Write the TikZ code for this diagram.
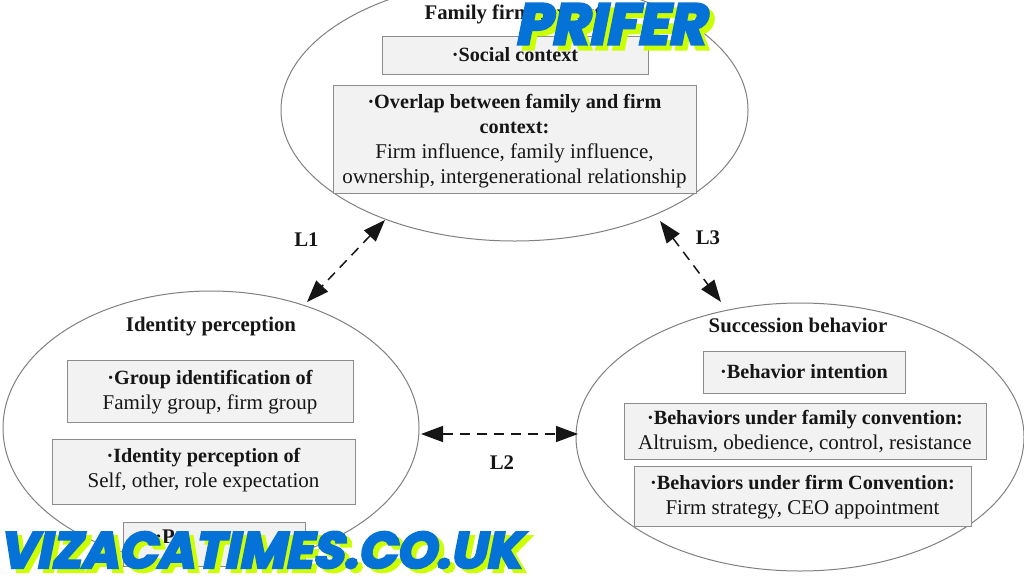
\documentclass[tikz,border=0pt]{standalone}
\usepackage{fontspec}
\setmainfont{Liberation Serif}
\newfontfamily\wmfont[FakeSlant=0.2,FakeBold=5]{Poppins}
\usetikzlibrary{arrows.meta}
\definecolor{boxfill}{HTML}{F2F2F2}
\definecolor{boxline}{HTML}{8C8C8C}
\definecolor{ringline}{HTML}{808080}
\definecolor{ink}{HTML}{161616}
\definecolor{wmblue}{HTML}{0472D6}
\definecolor{wmyellow}{HTML}{CCFF00}
\newcommand{\bh}[1]{{\bfseries\fontsize{20.2}{25}\selectfont #1}}
\tikzset{
  ring/.style={draw=ringline,line width=1pt,fill=white},
  infobox/.style={draw=boxline,line width=1pt,fill=boxfill,rectangle,inner sep=0pt},
  boxtext/.style={inner sep=0pt,align=center,font=\fontsize{21}{25}\selectfont,text=ink},
  heading/.style={font=\bfseries\fontsize{20.8}{24}\selectfont,text=ink,inner sep=0pt},
  link/.style={dash pattern=on 10pt off 7pt,line width=1.5pt,ink,{Triangle[length=22pt,width=16pt]}-{Triangle[length=22pt,width=16pt]}},
  wmbig/.style={font=\wmfont\bfseries\fontsize{57.5}{58}\selectfont,inner sep=0pt},
  wmsmall/.style={font=\wmfont\bfseries\fontsize{50.5}{52}\selectfont,inner sep=0pt},
}
\begin{document}
\begin{tikzpicture}[x=1pt,y=-1pt]
\useasboundingbox (0,0) rectangle (1024,576);
\clip (0,0) rectangle (1024,576);
% ellipses
\draw[ring] (514.5,110) ellipse [x radius=233.5,y radius=131];
\draw[ring] (211,428) ellipse [x radius=208,y radius=137];
\draw[ring] (800,437) ellipse [x radius=224,y radius=134];
\coordinate (l1a) at (385,220);
\coordinate (l1b) at (307,302);
\coordinate (l2a) at (421,434);
\coordinate (l2b) at (578,434);
\coordinate (l3a) at (660,221);
\coordinate (l3b) at (721,302);
% headings
\node[heading] (h1) at (513,14) {Family firm context};
\node[heading] (h2) at (211,326.5) {Identity perception};
\node[heading] (h3) at (798,325) {Succession behavior};
% boxes
\node[infobox,minimum width=266pt,minimum height=38pt] (b1) at (515,55) {};
\node[boxtext] (b1t) at (b1) {\bh{·Social context}};
\node[infobox,minimum width=363pt,minimum height=108pt] (b2) at (514.5,139) {};
\node[boxtext,yshift=-2pt] (b2t) at (b2) {\bh{·Overlap between family and firm}\\\bh{context:}\\Firm influence, family influence,\\ownership, intergenerational relationship};
\node[infobox,minimum width=286pt,minimum height=62pt] (b3) at (210,391) {};
\node[boxtext,yshift=-1.5pt] (b3t) at (b3) {\bh{·Group identification of}\\Family group, firm group};
\node[infobox,minimum width=303pt,minimum height=65pt] (b4) at (203.5,472) {};
\node[boxtext,yshift=1.5pt] (b4t) at (b4) {\bh{·Identity perception of}\\Self, other, role expectation};
\node[infobox,minimum width=182pt,minimum height=44pt] (b5) at (214,544) {};
\node[heading,anchor=west] (t5) at (155,537) {·P};
\node[infobox,minimum width=202pt,minimum height=42pt] (b6) at (804,372) {};
\node[boxtext] (b6t) at (b6) {\bh{·Behavior intention}};
\node[infobox,minimum width=362pt,minimum height=56pt] (b7) at (805,431) {};
\node[boxtext] (b7t) at (b7) {\bh{·Behaviors under family convention:}\\Altruism, obedience, control, resistance};
\node[infobox,minimum width=337pt,minimum height=60pt] (b8) at (802.5,496) {};
\node[boxtext,yshift=-1pt] (b8t) at (b8) {\bh{·Behaviors under firm Convention:}\\Firm strategy, CEO appointment};
% connectors
\draw[link] (l1a) -- (l1b);
\draw[link] (l2a) -- (l2b);
\draw[link] (l3a) -- (l3b);
\node[heading] (t1) at (306.5,240) {L1};
\node[heading] (t2) at (502,463) {L2};
\node[heading] (t3) at (708,238) {L3};
% watermark
\node[wmbig,text=wmyellow] (w1s) at (615,29) {PRIFER};
\node[wmbig,text=wmblue] (w1) at (610,24) {PRIFER};
\node[wmsmall,text=wmyellow] (w2s) at (265,554) {VIZACATIMES.CO.UK};
\node[wmsmall,text=wmblue] (w2) at (260,550) {VIZACATIMES.CO.UK};
\end{tikzpicture}
\end{document}
